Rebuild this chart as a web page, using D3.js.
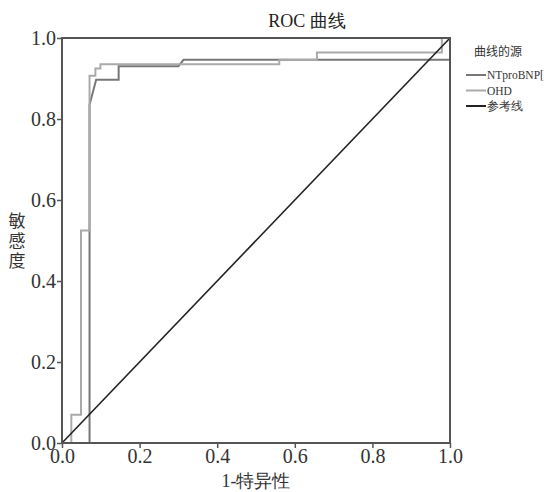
<!DOCTYPE html>
<html>
<head>
<meta charset="utf-8">
<script src="https://cdn.jsdelivr.net/npm/d3@7"></script>
<style>
body{margin:0;background:#fff;}
svg{display:block;}
</style>
</head>
<body>
<div id="viz_roc"></div>
<script>
// data
var tickValues=[0.0,0.2,0.4,0.6,0.8,1.0];
var tickLabels=["0.0","0.2","0.4","0.6","0.8","1.0"];
var seriesNames=["NTproBNP[","OHD","参考线"];
var seriesColors=["#777777","#aaaaaa","#222222"];
var ntprobnpX=[0,0.071,0.071,0.088,0.146,0.146,0.300,0.313,1.000,1.000];
var ntprobnpY=[0,0.000,0.835,0.897,0.897,0.930,0.930,0.946,0.946,1.000];
var ohdX=[0,0.024,0.024,0.049,0.049,0.071,0.071,0.086,0.086,0.099,0.099,0.560,0.560,0.657,0.657,0.979,0.979,1.000];
var ohdY=[0,0.000,0.070,0.070,0.525,0.525,0.907,0.907,0.925,0.925,0.935,0.935,0.946,0.946,0.964,0.964,1.000,1.000];
var refX=[0,1];
var refY=[0,1];

var width=544,height=492;
var x0=62,x1=450,y0=443,y1=38;
var serif="'Liberation Serif','Times New Roman','DejaVu Serif',serif";

var svg=d3.select("#viz_roc").append("svg")
  .attr("width",width).attr("height",height);

var xScale=d3.scaleLinear().domain([0,1]).range([x0,x1]);
var yScale=d3.scaleLinear().domain([0,1]).range([y0,y1]);

// title
svg.append("text").attr("x",307).attr("y",27)
  .attr("text-anchor","middle")
  .style("font-family",serif)
  .style("font-size","18px").style("fill","#222")
  .text("ROC 曲线");

// curves
var line=d3.line().x(function(d){return xScale(d[0]);}).y(function(d){return yScale(d[1]);});
var series=[
  {name:seriesNames[0],pts:d3.zip(ntprobnpX,ntprobnpY),color:seriesColors[0],w:2},
  {name:seriesNames[1],pts:d3.zip(ohdX,ohdY),color:seriesColors[1],w:2},
  {name:seriesNames[2],pts:d3.zip(refX,refY),color:seriesColors[2],w:1.6}
];
svg.selectAll(".curve").data(series).enter().append("path")
  .attr("class","curve")
  .attr("d",function(d){return line(d.pts);})
  .attr("fill","none")
  .attr("stroke",function(d){return d.color;})
  .attr("stroke-width",function(d){return d.w;});

// frame
svg.append("rect").attr("x",x0).attr("y",y1)
  .attr("width",x1-x0).attr("height",y0-y1)
  .attr("fill","none").attr("stroke","#555").attr("stroke-width",2);

// axes
var xAxis=d3.axisBottom(xScale).tickValues(tickValues)
  .tickFormat(function(d,i){return tickLabels[i];}).tickSize(5).tickSizeOuter(0).tickPadding(1);
var yAxis=d3.axisLeft(yScale).tickValues(tickValues)
  .tickFormat(function(d,i){return tickLabels[i];}).tickSize(5).tickSizeOuter(0).tickPadding(1);
var gx=svg.append("g").attr("transform","translate(0,"+y0+")").call(xAxis);
var gy=svg.append("g").attr("transform","translate("+x0+",0)").call(yAxis);
[gx,gy].forEach(function(g){
  g.select(".domain").remove();
  g.selectAll("line").attr("stroke","#555").attr("stroke-width",1.5);
  g.selectAll("text").attr("font-family",null).attr("font-size",null)
    .style("font-family",serif).style("font-size","20px").style("fill","#333");
});
gx.attr("font-family",null).attr("font-size",null);
gy.attr("font-family",null).attr("font-size",null);

// axis titles
svg.append("text").attr("x",256).attr("y",487)
  .attr("text-anchor","middle")
  .style("font-family",serif)
  .style("font-size","18px").style("fill","#333")
  .text("1-特异性");
svg.append("text")
  .attr("x",17).attr("y",212)
  .style("writing-mode","vertical-rl")
  .style("font-family","'Noto Sans CJK SC',serif")
  .style("font-size","17px").style("letter-spacing","3px").style("fill","#333")
  .text("敏感度");

// legend
svg.append("text").attr("x",498).attr("y",56)
  .attr("text-anchor","middle")
  .style("font-family","'Noto Sans CJK SC',serif")
  .style("font-size","12px").style("fill","#333")
  .text("曲线的源");
var lg=svg.selectAll(".lg").data(series).enter().append("g")
  .attr("class","lg")
  .attr("transform",function(d,i){return "translate(466,"+(75+i*15.5)+")";});
lg.append("line").attr("x1",0).attr("x2",20).attr("y1",0).attr("y2",0)
  .attr("stroke",function(d){return d.color;}).attr("stroke-width",2);
lg.append("text").attr("x",21).attr("y",4)
  .style("font-family",serif)
  .style("font-size","11.5px").style("fill","#333")
  .text(function(d){return d.name;});
</script>
</body>
</html>
